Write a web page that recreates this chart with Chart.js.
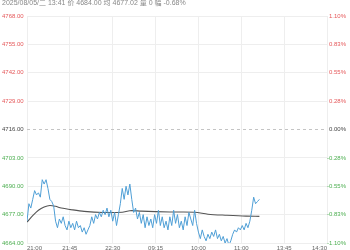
<!DOCTYPE html>
<html>
<head>
<meta charset="utf-8">
<script src="https://cdn.jsdelivr.net/npm/chart.js@4/dist/chart.umd.min.js"></script>
<style>
    html, body { margin: 0; padding: 0; background: #fff; overflow: hidden; width: 350px; height: 250px; }
    #chartBox { position: absolute; left: 0; top: -2px; }
</style>
</head>
<body>
<canvas id="chartBox" width="350" height="265"></canvas>
<script>
// Header line shown above the chart
const headerText = "2025/08/05/二 13:41 价 4684.00 均 4677.02 量 0 幅 -0.68%";

// Previous settle, the 0.00% line
const baseClose = 4716;

// Axis ticks and labels
const priceTicks = [4664, 4677, 4690, 4703, 4716, 4729, 4742, 4755, 4768];
const pctLabels = ["-1.10%", "-0.83%", "-0.55%", "-0.28%", "0.00%", "0.28%", "0.55%", "0.83%", "1.10%"];
const tickMinutes = [0, 45, 90, 135, 180, 225, 270, 315];
const timeLabels = ["21:00", "21:45", "22:30", "09:15", "10:00", "11:00", "13:45", "14:30"];

// Price, one value every 2 trading minutes from 21:00
const priceStep = 2;
const priceValues = [
    4674, 4682, 4680, 4684, 4688, 4686, 4687, 4685, 4693, 4691, 4693, 4689, 4684, 4683, 4681, 4674,
    4671, 4675, 4673, 4676, 4672, 4670, 4674, 4671, 4673, 4670, 4674, 4671, 4672, 4669, 4671, 4668, 4670,
    4672, 4676, 4673, 4677, 4675, 4678, 4676, 4679, 4677, 4680, 4676, 4679, 4674, 4678, 4672, 4677,
    4682, 4689, 4684, 4690, 4686, 4691, 4684, 4678,
    4680, 4675, 4678, 4673, 4677, 4671, 4676, 4672, 4675, 4671, 4677, 4673, 4679, 4672, 4676, 4671, 4674,
    4670, 4676, 4672, 4679, 4673, 4677, 4671, 4674, 4670, 4676, 4672, 4678, 4675, 4672, 4679, 4673,
    4669, 4666, 4670, 4667, 4665, 4668, 4666, 4669, 4667, 4670, 4666, 4668, 4665, 4667, 4664, 4666, 4663, 4665,
    4668, 4670, 4669, 4671, 4670, 4672, 4670, 4673, 4671, 4674, 4679, 4685, 4682, 4683, 4684
];

// Average price line
const avgMinutes = [0, 6, 12, 18, 24, 30, 36, 46, 60, 80, 100, 108, 120, 150, 176, 190, 210, 230, 244];
const avgValues = [4673.6, 4676.5, 4679, 4680.5, 4681.2, 4680.8, 4680, 4679.3, 4678.5, 4678, 4678.1, 4678.8, 4678.6, 4678.2, 4678.1, 4677.2, 4676.7, 4676.3, 4676.2];

const redColor = "#e5585a";
const greenColor = "#4cae50";
const fontFamily = "'Liberation Sans', Arial, 'Noto Sans CJK SC', sans-serif";

function tickColor(value) {
    if (value > baseClose) return redColor;
    if (value < baseClose) return greenColor;
    return "#444";
}

const pricePoints = priceValues.map((v, i) => ({ x: i * priceStep, y: v }));
const avgPoints = avgValues.map((v, i) => ({ x: avgMinutes[i], y: v }));

const ctx = document.getElementById("chartBox").getContext("2d");
const chart = new Chart(ctx, {
    type: "line",
    data: {
        datasets: [
            {
                label: "价格",
                data: pricePoints,
                borderColor: "#4f9fd6",
                borderWidth: 1,
                pointRadius: 0,
                tension: 0,
                yAxisID: "y"
            },
            {
                label: "均价",
                data: avgPoints,
                borderColor: "#555",
                borderWidth: 1.1,
                pointRadius: 0,
                tension: 0.3,
                yAxisID: "y"
            }
        ]
    },
    options: {
        responsive: false,
        animation: false,
        layout: { padding: { left: 2, right: 4, top: 0, bottom: 0 } },
        plugins: {
            legend: { display: false },
            tooltip: { enabled: false },
            title: {
                display: true,
                text: headerText,
                align: "start",
                color: "#888",
                font: { size: 7, family: fontFamily, weight: "normal", lineHeight: 1.2 },
                padding: { top: 1, bottom: 8.6 }
            }
        },
        scales: {
            x: {
                type: "linear",
                min: 0,
                max: 315,
                afterBuildTicks: scale => { scale.ticks = tickMinutes.map(v => ({ value: v })); },
                afterFit: scale => { scale.height = 20; },
                grid: { color: "#eeeeee", lineWidth: 1, drawTicks: false },
                border: { display: false },
                ticks: {
                    align: "inner",
                    padding: 2,
                    maxRotation: 0,
                    autoSkip: false,
                    color: "#666",
                    font: { size: 6, family: fontFamily },
                    callback: (value, index) => timeLabels[index]
                }
            },
            y: {
                position: "left",
                min: priceTicks[0],
                max: priceTicks[priceTicks.length - 1],
                afterBuildTicks: scale => { scale.ticks = priceTicks.map(v => ({ value: v })); },
                afterFit: scale => { scale.width = 25; },
                grid: {
                    drawTicks: false,
                    color: c => (c.tick && c.tick.value === baseClose) ? "#c4c4c4" : "#eeeeee"
                },
                border: {
                    display: false,
                    dash: c => (c.tick && c.tick.value === baseClose) ? [3, 3] : []
                },
                ticks: {
                    crossAlign: "far",
                    padding: 0,
                    autoSkip: false,
                    font: { size: 6, family: fontFamily },
                    color: c => tickColor(c.tick.value),
                    callback: value => value.toFixed(2)
                }
            },
            y2: {
                position: "right",
                min: priceTicks[0],
                max: priceTicks[priceTicks.length - 1],
                afterBuildTicks: scale => { scale.ticks = priceTicks.map(v => ({ value: v })); },
                afterFit: scale => { scale.width = 19; },
                grid: { display: false, drawTicks: false },
                border: { display: false },
                ticks: {
                    crossAlign: "far",
                    padding: 0,
                    autoSkip: false,
                    font: { size: 6, family: fontFamily },
                    color: c => tickColor(c.tick.value),
                    callback: (value, index) => pctLabels[index]
                }
            }
        }
    }
});
</script>
</body>
</html>
